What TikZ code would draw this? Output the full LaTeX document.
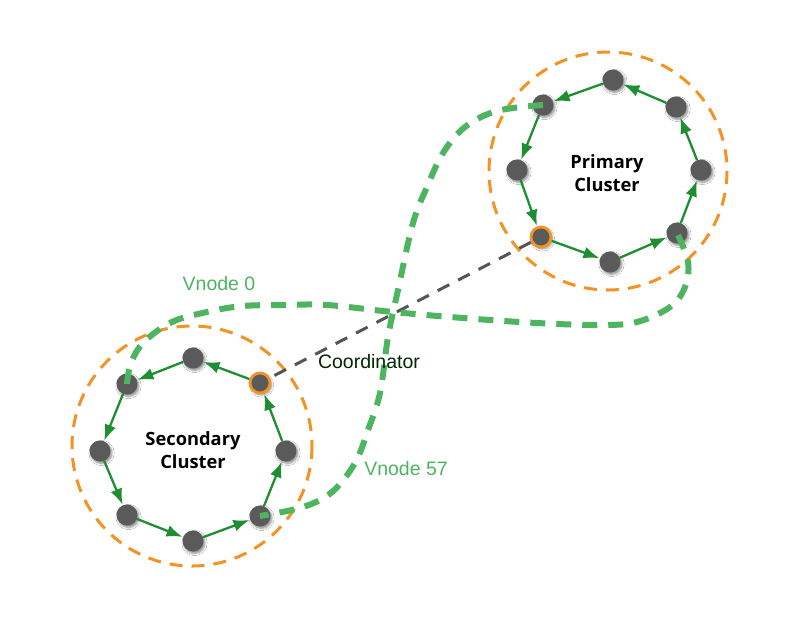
\documentclass[tikz,border=0pt]{standalone}
\usepackage{fontspec}
\setmainfont{Liberation Sans}
\newfontfamily\labfont{Open Sans}
\usetikzlibrary{arrows.meta,shadows.blur}
\definecolor{nodegray}{HTML}{5A5A5A}
\definecolor{ringorange}{HTML}{F39323}
\definecolor{arrgreen}{HTML}{1E8E33}
\definecolor{vgreen}{HTML}{4DB560}
\definecolor{coordgray}{HTML}{555555}
\tikzset{
  vn/.style={circle, fill=nodegray, minimum size=21pt, inner sep=0pt,
    blur shadow={shadow blur steps=6, shadow xshift=1.5pt, shadow yshift=-2pt, shadow opacity=45}},
  cn/.style={vn, draw=ringorange, line width=2.8pt, minimum size=20pt},
  ring/.style={draw=ringorange, line width=3pt, dash pattern=on 13pt off 9pt},
  arr/.style={draw=arrgreen, line width=2.3pt, -{Latex[length=16pt,width=12pt]}, shorten >=0.5pt},
  vcurve/.style={draw=vgreen, line width=6pt, dash pattern=on 15pt off 11pt},
  coordline/.style={draw=coordgray, line width=3pt, dash pattern=on 13pt off 10pt},
  clabel/.style={font=\labfont\bfseries\fontsize{18.3}{23.5}\selectfont, align=center, text=black},
  vlabel/.style={font=\fontsize{19.5}{22}\selectfont, text=vgreen},
}
\begin{document}
\begin{tikzpicture}[x=1pt,y=-1pt]
\useasboundingbox (0,0) rectangle (800,622);
\fill[white] (0,0) rectangle (800,622);
% rings
\coordinate (PC) at (608,171);
\coordinate (SC) at (192,446);
\draw[ring] (PC) circle[radius=119];
\draw[ring] (SC) circle[radius=120];
% primary nodes
\node[vn] (P1) at (613,80) {};
\node[vn] (P2) at (676,107) {};
\node[vn] (P3) at (701,170) {};
\node[vn] (P4) at (677,233) {};
\node[vn] (P5) at (610,262) {};
\node[cn] (P6) at (541,237) {};
\node[vn] (P7) at (517,170) {};
\node[vn] (P8) at (543,105) {};
% secondary nodes
\node[vn] (S1) at (193,358) {};
\node[cn] (S2) at (260,383) {};
\node[vn] (S3) at (286,451) {};
\node[vn] (S4) at (260,516) {};
\node[vn] (S5) at (193,541) {};
\node[vn] (S6) at (127,515) {};
\node[vn] (S7) at (100,451) {};
\node[vn] (S8) at (127,384) {};
% coordinator link
\draw[coordline] (P6) -- (S2);
% arrows primary
\draw[arr] (P1) -- (P8);
\draw[arr] (P8) -- (P7);
\draw[arr] (P7) -- (P6);
\draw[arr] (P6) -- (P5);
\draw[arr] (P5) -- (P4);
\draw[arr] (P4) -- (P3);
\draw[arr] (P3) -- (P2);
\draw[arr] (P2) -- (P1);
% arrows secondary
\draw[arr] (S2) -- (S1);
\draw[arr] (S1) -- (S8);
\draw[arr] (S8) -- (S7);
\draw[arr] (S7) -- (S6);
\draw[arr] (S6) -- (S5);
\draw[arr] (S5) -- (S4);
\draw[arr] (S4) -- (S3);
\draw[arr] (S3) -- (S2);
% vnode curves
\draw[vcurve] plot[smooth, tension=0.6] coordinates {(P8.center) (497,111) (465,127) (443,153) (427,187) (413,223) (398,290) (388,337) (380,393) (368,430) (355,463) (332,492) (303,507) (S4.center)};
\draw[vcurve] plot[smooth, tension=0.6] coordinates {(S8.center) (131,363) (144,342) (172,322) (207,312) (243,306) (287,305) (327,305) (393,312) (463,318) (537,323) (600,325) (637,322) (670,307) (685,287) (688,262) (P4.center)};
% labels
\node[clabel] (PL) at (607,173) {Primary\\Cluster};
\node[clabel] (SL) at (193,450) {Secondary\\Cluster};
\node[font=\fontsize{19.5}{22}\selectfont, text=black!85!green] (CL) at (369,362) {Coordinator};
\node[vlabel] (V0) at (219,284) {Vnode 0};
\node[vlabel] (V57) at (406,469) {Vnode 57};
\end{tikzpicture}
\end{document}
